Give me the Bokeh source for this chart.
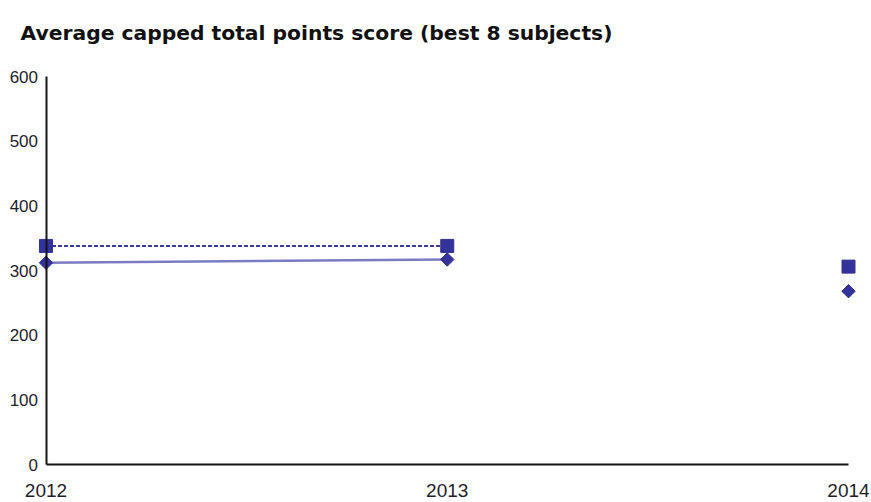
import math
from bokeh.plotting import figure
from bokeh.models import Range1d, FixedTicker, Label
from bokeh.embed import file_html
from bokeh.resources import INLINE

# Data
years = [2012, 2013, 2014]
school = [338, 338, 306]      # squares, dashed line
national = [312, 317, 268]    # diamonds, solid line
y_ticks = [0, 100, 200, 300, 400, 500, 600]
x_ticks = [2012, 2013, 2014]
title_text = "Average capped total points score (best 8 subjects)"

NAVY = "#333399"
DASH = "#3d3d9e"
LIGHT = "#7b7bc4"
TICK_FONT = "Liberation Sans"

W, H = 871, 502
# layout (pixels): where the axis ends sit inside the figure
X_LEFT_PX, X_RIGHT_PX = 45.5, 848.0
Y_ZERO_PX, Y_TOP_PX = 464.0, 76.0

x_scale = (X_RIGHT_PX - X_LEFT_PX) / (x_ticks[-1] - x_ticks[0])
y_scale = (Y_ZERO_PX - Y_TOP_PX) / (y_ticks[-1] - y_ticks[0])

p = figure(width=W, height=H, output_backend="svg", toolbar_location=None,
           x_range=Range1d(x_ticks[0] - X_LEFT_PX / x_scale,
                           x_ticks[-1] + (W - X_RIGHT_PX) / x_scale),
           y_range=Range1d(y_ticks[0] - (H - Y_ZERO_PX) / y_scale,
                           y_ticks[-1] + Y_TOP_PX / y_scale),
           min_border=0)

p.outline_line_color = None
p.grid.visible = False
p.background_fill_color = "white"
p.border_fill_color = "white"

for ax in (p.xaxis[0], p.yaxis[0]):
    ax.axis_line_color = "#151515"
    ax.axis_line_width = 2
    ax.major_tick_line_color = None
    ax.minor_tick_line_color = None
    ax.major_tick_out = 0
    ax.major_tick_in = 0
    ax.major_label_text_font = TICK_FONT
    ax.major_label_text_color = "#1e1e2e"

p.xaxis[0].ticker = FixedTicker(ticks=x_ticks)
p.yaxis[0].ticker = FixedTicker(ticks=y_ticks)
p.xaxis[0].bounds = (x_ticks[0], x_ticks[-1])
p.yaxis[0].bounds = (y_ticks[0], y_ticks[-1])
p.yaxis[0].fixed_location = x_ticks[0]
p.xaxis[0].fixed_location = y_ticks[0]
p.xaxis[0].major_label_text_font_size = "19px"
p.yaxis[0].major_label_text_font_size = "17px"
p.xaxis[0].major_label_standoff = 19
p.yaxis[0].major_label_standoff = 8

# title as a label in screen units
p.add_layout(Label(x=20, y=H - 32, x_units="screen", y_units="screen",
                   text=title_text, text_font="DejaVu Sans", text_font_style="bold",
                   text_font_size="20.3px", text_color="#111111",
                   text_baseline="alphabetic", text_align="left"))

# connecting lines (2012-2013 only)
p.line(years[:2], school[:2], line_color=DASH, line_width=2, line_dash="4 2")
p.line(years[:2], national[:2], line_color=LIGHT, line_width=2.4)

p.scatter(years, school, marker="square", size=13, fill_color=NAVY, line_color=NAVY)
p.scatter(years, national, marker="square", angle=math.pi / 4, size=9.5,
          fill_color=NAVY, line_color=NAVY)

open("out.html", "w").write(file_html(p, INLINE))
